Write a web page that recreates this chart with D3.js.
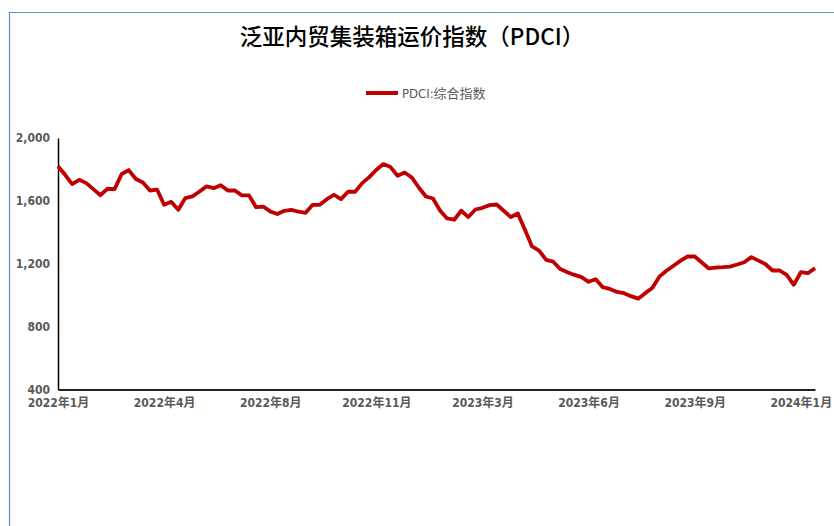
<!DOCTYPE html>
<html><head><meta charset="utf-8">
<script src="https://cdn.jsdelivr.net/npm/d3@7"></script>
<style>
html,body{margin:0;padding:0;background:#fff;}
svg{display:block;}
.tick text{font-family:"DejaVu Sans Condensed","Noto Sans CJK SC",sans-serif;font-weight:bold;font-size:12px;fill:#595959;}
</style></head>
<body>
<svg id="chart" width="834" height="526"></svg>
<script>
// ---- data ----
const startDate = "2022-01-07"; // weekly observations
const pdciValues = [
 1820,1766,1707,1734,1713,1675,1636,1677,1675,1771,
 1796,1739,1717,1666,1672,1575,1594,1543,1618,1628,
 1660,1692,1681,1700,1666,1666,1635,1635,1560,1564,
 1533,1516,1537,1543,1531,1524,1575,1575,1611,1639,
 1611,1658,1658,1713,1751,1798,1834,1815,1760,1781,
 1749,1685,1628,1615,1539,1488,1480,1537,1497,1545,
 1556,1573,1577,1537,1497,1520,1416,1310,1284,1225,
 1213,1166,1146,1129,1115,1085,1102,1051,1040,1021,
 1013,994,978,1013,1046,1118,1155,1187,1220,1246,
 1246,1208,1170,1176,1178,1182,1195,1210,1242,1220,
 1197,1157,1157,1129,1066,1146,1140,1172
];
const tickLabels = ["2022年1月","2022年4月","2022年8月","2022年11月","2023年3月","2023年6月","2023年9月","2024年1月"];
const tickEvery = 15; // label every 15 weeks
const yTicks = [400,800,1200,1600,2000];
const seriesName = "PDCI:综合指数";
const titleText = "泛亚内贸集装箱运价指数（PDCI）";

// ---- build ----
const parse = d3.timeParse("%Y-%m-%d");
const t0 = parse(startDate);
const dates = pdciValues.map((v,i)=>d3.timeDay.offset(t0, i*7));
const data = pdciValues.map((v,i)=>({date:dates[i], value:v}));
const tickDates = tickLabels.map((l,i)=>dates[i*tickEvery]);

const svg = d3.select("#chart");

// outer chart border (blue, only left and top visible)
svg.append("path")
  .attr("d","M9.5,526 L9.5,12.5 L834,12.5")
  .attr("fill","none").attr("stroke","#5B8FD5").attr("stroke-width",1.2);

const x = d3.scaleTime().domain([dates[0], dates[dates.length-1]]).range([58, 815]);
const y = d3.scaleLinear().domain([400,2000]).range([389.5,138]);

// title
svg.append("text").attr("x",412).attr("y",45).attr("text-anchor","middle")
  .style("font-family","'Noto Sans CJK SC',sans-serif").style("font-size","22.5px")
  .style("font-weight","500").style("fill","#000").text(titleText);

// legend
const lg = svg.append("g");
lg.append("line").attr("x1",366).attr("x2",398).attr("y1",93).attr("y2",93)
  .attr("stroke","#C00000").attr("stroke-width",4);
lg.append("text").attr("x",402).attr("y",98)
  .style("font-family","'DejaVu Sans Condensed','Noto Sans CJK SC',sans-serif")
  .style("font-size","13px").style("fill","#595959").text(seriesName);

// y axis
const yAxis = svg.append("g").attr("transform","translate(58,0)")
  .call(d3.axisLeft(y).tickValues(yTicks).tickFormat(d3.format(",")).tickSize(0).tickPadding(8));
yAxis.select(".domain").attr("stroke","#000").attr("stroke-width",1.5);

// x axis
const xAxis = svg.append("g").attr("transform","translate(0,389.5)")
  .call(d3.axisBottom(x).tickValues(tickDates).tickFormat((d,i)=>tickLabels[i]).tickSize(0).tickPadding(9));
xAxis.select(".domain").attr("stroke","#222").attr("stroke-width",1.8);

// line
svg.append("path").datum(data)
  .attr("fill","none").attr("stroke","#C00000").attr("stroke-width",3.8)
  .attr("stroke-linejoin","round")
  .attr("d", d3.line().x(d=>x(d.date)).y(d=>y(d.value)));
</script>
</body></html>
